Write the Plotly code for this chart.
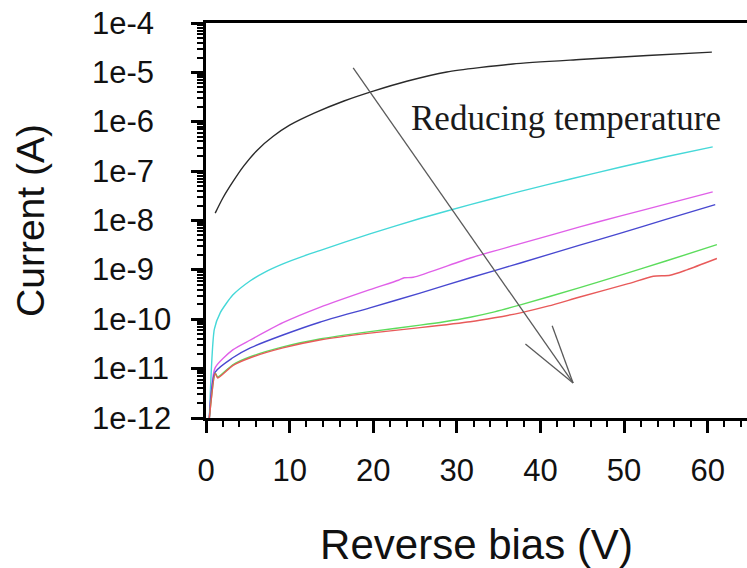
import math
import plotly.graph_objects as go

# Reverse-bias I-V sweeps at several temperatures (hottest first)
bias_black = [1.1, 2.0, 3.2, 4.5, 6.1, 8.0, 10.0, 13.0, 16.5, 20.0, 24.0, 28.8, 36.7, 44.7, 52.8, 60.5]
current_black = [1.41e-8, 2.82e-8, 6.03e-8, 1.26e-7, 2.63e-7, 5.01e-7, 8.51e-7, 1.51e-6,
                 2.63e-6, 4.17e-6, 6.61e-6, 1.02e-5, 1.48e-5, 1.82e-5, 2.19e-5, 2.57e-5]

bias_cyan = [0.4, 1.0, 1.7, 3.2, 5.3, 7.0, 9.2, 11.5, 13.6, 19.6, 25.6, 31.6, 37.6, 43.6, 49.5, 55.0, 60.6]
current_cyan = [1.0e-12, 6.31e-11, 1.35e-10, 3.09e-10, 6.03e-10, 8.91e-10, 1.32e-9, 1.86e-9,
                2.45e-9, 5.37e-9, 1.10e-8, 2.09e-8, 3.89e-8, 6.92e-8, 1.20e-7, 1.95e-7, 3.09e-7]

bias_magenta = [0.4, 1.1, 3.2, 5.3, 9.2, 13.6, 19.6, 23.0, 23.7, 24.8, 31.6, 37.6, 44.7, 49.5, 55.0, 60.6]
current_magenta = [1.0e-12, 1.05e-11, 2.40e-11, 3.80e-11, 8.51e-11, 1.74e-10, 3.98e-10, 6.17e-10,
                   6.92e-10, 7.08e-10, 1.74e-9, 3.39e-9, 7.41e-9, 1.23e-8, 2.14e-8, 3.80e-8]

bias_blue = [0.4, 1.1, 3.2, 5.3, 9.2, 13.6, 19.6, 25.6, 31.6, 37.6, 44.7, 49.5, 55.0, 60.9]
current_blue = [1.0e-12, 8.51e-12, 1.66e-11, 2.63e-11, 4.79e-11, 8.71e-11, 1.70e-10, 3.39e-10,
                6.92e-10, 1.38e-9, 3.16e-9, 5.50e-9, 1.05e-8, 2.09e-8]

bias_green = [0.4, 1.1, 1.4, 3.2, 5.3, 9.2, 13.6, 19.6, 25.6, 28.5, 31.6, 34.5, 37.6, 44.7, 49.5, 55.0, 61.1]
current_green = [1.0e-12, 8.13e-12, 6.76e-12, 1.20e-11, 1.74e-11, 2.75e-11, 3.98e-11, 5.62e-11,
                 7.59e-11, 8.91e-11, 1.10e-10, 1.41e-10, 1.95e-10, 4.37e-10, 7.76e-10, 1.51e-9, 3.24e-9]

bias_red = [0.4, 1.1, 1.4, 3.2, 5.3, 9.2, 13.6, 19.6, 25.6, 31.6, 34.5, 37.6, 41.0, 44.7, 50.5, 53.5,
            55.5, 57.5, 61.1]
current_red = [1.0e-12, 7.94e-12, 6.46e-12, 1.15e-11, 1.66e-11, 2.63e-11, 3.80e-11, 5.25e-11,
               6.76e-11, 8.91e-11, 1.07e-10, 1.35e-10, 1.86e-10, 2.82e-10, 5.25e-10, 7.41e-10,
               7.76e-10, 1.00e-9, 1.70e-9]

y_tick_values = [1e-4, 1e-5, 1e-6, 1e-7, 1e-8, 1e-9, 1e-10, 1e-11, 1e-12]
y_tick_labels = ["1e-4", "1e-5", "1e-6", "1e-7", "1e-8", "1e-9", "1e-10", "1e-11", "1e-12"]

series = [
    (bias_black, current_black, "#2a2a2a"),
    (bias_cyan, current_cyan, "#45d8d8"),
    (bias_magenta, current_magenta, "#e060e8"),
    (bias_blue, current_blue, "#4848d0"),
    (bias_green, current_green, "#5cdc5c"),
    (bias_red, current_red, "#e85a5a"),
]

SANS = "Liberation Sans, Arial, sans-serif"
SERIF = "Liberation Serif, Times New Roman, serif"

fig = go.Figure()
for volts, amps, colour in series:
    fig.add_trace(go.Scatter(
        x=volts, y=amps, mode="lines",
        line=dict(color=colour, width=1.4, shape="spline", smoothing=0.6),
        showlegend=False, hoverinfo="skip",
    ))

# "Reducing temperature" arrow: shaft plus two open barbs (y given as log10 of current)
arrow_tail = (17.6, -4.91)
arrow_tip = (43.9, -11.29)
arrow_barbs = [(38.2, -10.50), (41.4, -10.13)]
ax_pts, ay_pts = [arrow_tail[0], arrow_tip[0]], [10 ** arrow_tail[1], 10 ** arrow_tip[1]]
for bx, by in arrow_barbs:
    ax_pts += [None, bx, arrow_tip[0]]
    ay_pts += [None, 10 ** by, 10 ** arrow_tip[1]]
fig.add_trace(go.Scatter(x=ax_pts, y=ay_pts, mode="lines", connectgaps=False,
                         line=dict(color="#5a5a5a", width=1.3),
                         showlegend=False, hoverinfo="skip"))

fig.add_annotation(x=24.3, y=-5.94, xref="x", yref="y", text="Reducing temperature",
                   showarrow=False, xanchor="left", yanchor="middle",
                   font=dict(family=SERIF, size=35, color="#1a1a1a"))

# Left-aligned decade labels on the current axis
for val, lab in zip(y_tick_values, y_tick_labels):
    fig.add_annotation(x=-0.214, y=math.log10(val), xref="paper", yref="y", text=lab,
                       showarrow=False, xanchor="left", yanchor="middle",
                       font=dict(family=SANS, size=31, color="#111111"))

fig.update_layout(
    width=747, height=568,
    margin=dict(l=206, r=0, t=23, b=150),
    plot_bgcolor="white", paper_bgcolor="white",
    showlegend=False,
)

fig.update_xaxes(
    range=[0, 64.7], showline=True, linewidth=3, linecolor="black", mirror=True,
    ticks="outside", ticklen=12, tickwidth=3, tickcolor="black", tick0=0, dtick=10,
    minor=dict(ticks="outside", ticklen=6, tickwidth=1.5, tickcolor="black", dtick=2, showgrid=False),
    showgrid=False, zeroline=False, ticklabelstandoff=11,
    tickfont=dict(family=SANS, size=31, color="#111111"),
    title=dict(text="Reverse bias (V)", font=dict(family=SANS, size=42, color="#111111"), standoff=50),
)

fig.update_yaxes(
    type="log", range=[-12, -4], showline=True, linewidth=3, linecolor="black",
    ticks="outside", ticklen=12, tickwidth=3, tickcolor="black", dtick=1,
    minor=dict(ticks="outside", ticklen=6, tickwidth=1.5, tickcolor="black", dtick="D1", showgrid=False),
    showticklabels=False, showgrid=False, zeroline=False,
    title=dict(text="Current (A)", font=dict(family=SANS, size=39, color="#111111"), standoff=135),
)

fig.write_html("out.html")
